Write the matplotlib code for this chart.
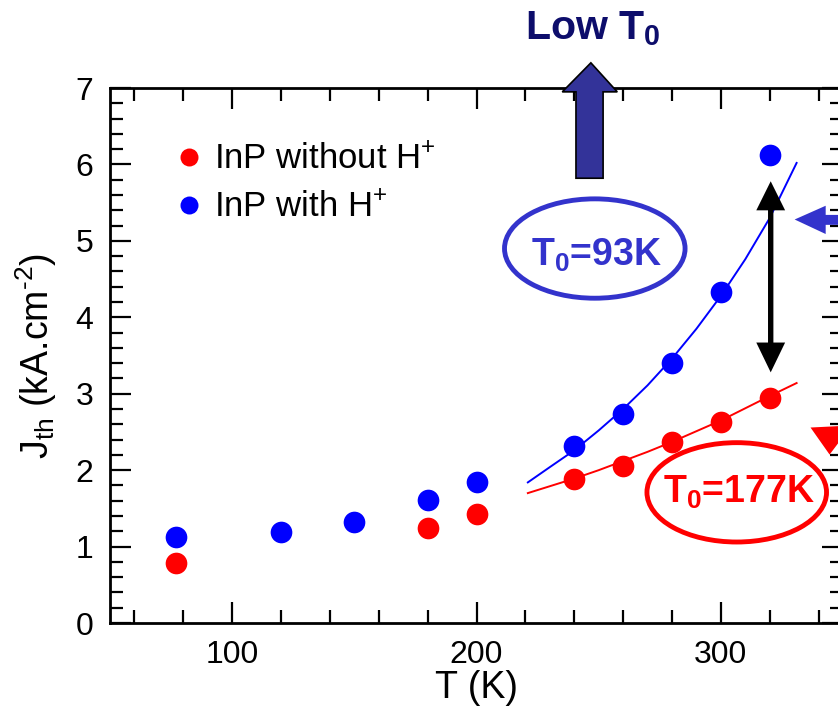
import matplotlib
matplotlib.use("Agg")
import matplotlib.pyplot as plt
from matplotlib.patches import Ellipse, Polygon
from matplotlib.ticker import MultipleLocator

plt.rcParams['font.family'] = ['Liberation Sans', 'DejaVu Sans']
plt.rcParams['mathtext.fontset'] = 'custom'
plt.rcParams['mathtext.rm'] = 'Liberation Sans'
plt.rcParams['mathtext.it'] = 'Liberation Sans:italic'
plt.rcParams['mathtext.bf'] = 'Liberation Sans:bold'

# --- data ---
T_red = [77, 180, 200, 240, 260, 280, 300, 320]
J_red = [0.79, 1.24, 1.42, 1.89, 2.05, 2.37, 2.63, 2.95]

T_blue = [77, 120, 150, 180, 200, 240, 260, 280, 300, 320]
J_blue = [1.13, 1.19, 1.32, 1.61, 1.85, 2.32, 2.74, 3.40, 4.33, 6.12]

# fitted T0 curves
T_fit = [221, 230, 240, 250, 260, 270, 280, 290, 300, 310, 320, 331]
J_fit_red = [1.70, 1.79, 1.89, 2.00, 2.12, 2.24, 2.37, 2.51, 2.65, 2.81, 2.97, 3.14]
J_fit_blue = [1.84, 2.04, 2.26, 2.52, 2.80, 3.11, 3.46, 3.85, 4.28, 4.76, 5.30, 6.02]

RED = '#ff0000'
BLUE = '#0000ff'
BLUE2 = '#3333cc'
NAVY = '#0d0d6b'

fig = plt.figure(figsize=(8.38, 7.10), dpi=100)
ax = fig.add_axes([0.1313, 0.1225, 0.8747, 0.7535])

ax.plot(T_fit, J_fit_red, color=RED, lw=1.4, zorder=2)
ax.plot(T_fit, J_fit_blue, color=BLUE, lw=1.4, zorder=2)
ax.plot(T_red, J_red, 'o', color=RED, ms=15.6, mec='none', zorder=3,
        label='InP without H$^{+}$')
ax.plot(T_blue, J_blue, 'o', color=BLUE, ms=15.6, mec='none', zorder=3,
        label='InP with H$^{+}$')

ax.set_xlim(50, 350)
ax.set_ylim(0, 7)
ax.xaxis.set_major_locator(MultipleLocator(100))
ax.xaxis.set_minor_locator(MultipleLocator(20))
ax.yaxis.set_major_locator(MultipleLocator(1))
ax.yaxis.set_minor_locator(MultipleLocator(0.2))
ax.tick_params(which='both', direction='in', top=True, right=True,
               width=1.6, labelsize=23)
ax.tick_params(which='major', length=15)
ax.tick_params(which='minor', length=9.5)
ax.tick_params(axis='x', pad=12)
ax.tick_params(axis='y', pad=12)
for s in ax.spines.values():
    s.set_linewidth(2)

ax.set_xlabel('T (K)', fontsize=27, labelpad=0)
ax.set_ylabel('J$_{\\mathrm{th}}$ (kA.cm$^{\u2010\\mathrm{2}}$)', fontsize=27, labelpad=12)

ax.legend(loc='upper left', bbox_to_anchor=(0.094, 0.897), frameon=False,
          fontsize=25, markerscale=0.83, handlelength=0.6, handletextpad=0.4,
          labelspacing=0.42, borderpad=0, borderaxespad=0)

# ellipses with T0 values
ax.add_patch(Ellipse((248.4, 4.90), 73.9, 1.30, fill=False, ec=BLUE2, lw=3.5, zorder=4))
ax.text(222.4, 4.67, r'T$_\mathbf{0}$=93K', color=BLUE2, fontsize=27,
        fontweight='bold', ha='left', va='baseline', zorder=5)
ax.add_patch(Ellipse((306.5, 1.71), 73.5, 1.30, fill=False, ec=RED, lw=3.5, zorder=4))
ax.text(276.3, 1.57, r'T$_\mathbf{0}$=177K', color=RED, fontsize=27,
        fontweight='bold', ha='left', va='baseline', zorder=5)

# big "Low T0" arrow
big = Polygon([(240.7, 5.82), (251.8, 5.82), (251.8, 6.95), (257.6, 6.95),
               (246.8, 7.33), (235.1, 6.95), (240.7, 6.95)], closed=True,
              fc='#333399', ec='black', lw=1.2, clip_on=False, zorder=6)
ax.add_patch(big)
ax.text(219.8, 7.63, r'Low T$_\mathbf{0}$', color=NAVY, fontsize=29.5,
        fontweight='bold', ha='left', va='baseline')

# black double arrow
xa, w, hw = 320.4, 1.1, 5.9
dbl = Polygon([(xa, 5.78), (xa + hw, 5.40), (xa + w, 5.40), (xa + w, 3.67),
               (xa + hw, 3.67), (xa, 3.28), (xa - hw, 3.67), (xa - w, 3.67),
               (xa - w, 5.40), (xa - hw, 5.40)], closed=True,
              fc='black', ec='none', zorder=5)
ax.add_patch(dbl)

# blue arrow from the right edge
lft = Polygon([(330.2, 5.28), (342.9, 5.46), (342.9, 5.34), (380, 5.34),
               (380, 5.21), (342.9, 5.21), (342.9, 5.09)], closed=True,
              fc=BLUE2, ec='none', clip_on=False, zorder=6)
ax.add_patch(lft)

# red arrow head at the right edge
rh = Polygon([(336.7, 2.558), (353.5, 2.585), (344.5, 2.204)], closed=True,
             fc=RED, ec='none', clip_on=False, zorder=6)
ax.add_patch(rh)

fig.savefig('out.png', dpi=100)
